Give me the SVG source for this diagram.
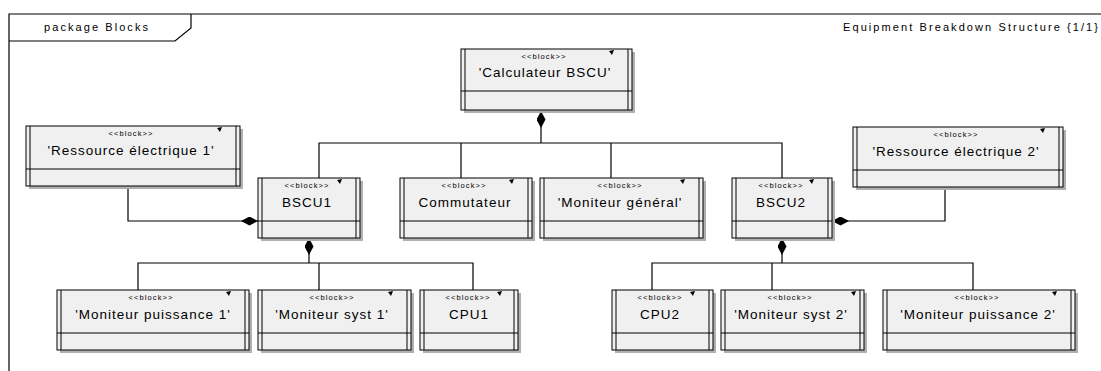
<svg xmlns="http://www.w3.org/2000/svg" width="1101" height="371" viewBox="0 0 1101 371">
<style>
.bg{fill:#ffffff}
.frame{fill:none;stroke:#000;stroke-width:1.2}
.shadow{fill:#b0b0b0}
.box{fill:#f0f0f0;stroke:#000;stroke-width:1}
.ln{fill:none;stroke:#000;stroke-width:1}
.mark{fill:#000}
.st{font-family:"Liberation Sans",Arial,sans-serif;font-size:7.5px;letter-spacing:1.1px;fill:#000;text-anchor:middle}
.nm{font-family:"Liberation Sans",Arial,sans-serif;font-size:13.5px;letter-spacing:1px;fill:#000;text-anchor:middle}
.ttl{font-family:"Liberation Sans",Arial,sans-serif;font-size:11px;fill:#000}
.con{fill:none;stroke:#000;stroke-width:1.2}
</style>
<defs>
<marker id="dia" viewBox="0 0 17 9" refX="0" refY="4.5" markerWidth="17" markerHeight="9" markerUnits="userSpaceOnUse" orient="auto">
<path d="M0,4.5 L8.5,0 L17,4.5 L8.5,9 Z" fill="#000"/>
</marker>
</defs>
<rect class="bg" x="0" y="0" width="1101" height="371"/>
<g id="frame">
<path class="frame" d="M9,371 V14 H1101"/>
<path class="frame" d="M9,41 H175 L191,28 V14"/>
<text class="ttl" x="44" y="31" textLength="104" lengthAdjust="spacing">package Blocks</text>
<text class="ttl" x="843" y="31" textLength="255" lengthAdjust="spacing">Equipment Breakdown Structure {1/1}</text>
</g>
<g id="connectors">
<path class="con" d="M541,111 V143" marker-start="url(#dia)"/>
<path class="con" d="M319,178 V143 H782 V178 M461,143 V178 M611,143 V178"/>
<path class="con" d="M258,221 H128 V186" marker-start="url(#dia)"/>
<path class="con" d="M309,238 V263" marker-start="url(#dia)"/>
<path class="con" d="M138,290 V263 H473 V290 M319,263 V290"/>
<path class="con" d="M782,238 V263" marker-start="url(#dia)"/>
<path class="con" d="M652,290 V263 H973 V290 M772,263 V290"/>
<path class="con" d="M832,221 H945 V187" marker-start="url(#dia)"/>
</g>
<g id="calc">
<rect class="shadow" x="464" y="52" width="171" height="61"/>
<rect class="box" x="461" y="49" width="171" height="61"/>
<path class="ln" d="M465,49 V110 M628,49 V110 M461,91 H632"/>
<path class="mark" d="M609,51 L614,50 L612,55 Z"/>
<text class="st" x="544" y="59">&lt;&lt;block&gt;&gt;</text>
<text class="nm" x="545" y="77">'Calculateur BSCU'</text>
</g>
<g id="res1">
<rect class="shadow" x="29" y="129" width="214" height="60"/>
<rect class="box" x="26" y="126" width="214" height="60"/>
<path class="ln" d="M30,126 V186 M236,126 V186 M26,169 H240"/>
<path class="mark" d="M217,128 L222,127 L220,132 Z"/>
<text class="st" x="131" y="136">&lt;&lt;block&gt;&gt;</text>
<text class="nm" x="131" y="155">'Ressource électrique 1'</text>
</g>
<g id="bscu1">
<rect class="shadow" x="261" y="181" width="102" height="60"/>
<rect class="box" x="258" y="178" width="102" height="60"/>
<path class="ln" d="M262,178 V238 M356,178 V238 M258,221 H360"/>
<path class="mark" d="M337,180 L342,179 L340,184 Z"/>
<text class="st" x="307" y="188">&lt;&lt;block&gt;&gt;</text>
<text class="nm" x="307" y="207">BSCU1</text>
</g>
<g id="commut">
<rect class="shadow" x="403" y="181" width="132" height="60"/>
<rect class="box" x="400" y="178" width="132" height="60"/>
<path class="ln" d="M404,178 V238 M528,178 V238 M400,221 H532"/>
<path class="mark" d="M509,180 L514,179 L512,184 Z"/>
<text class="st" x="464" y="188">&lt;&lt;block&gt;&gt;</text>
<text class="nm" x="465" y="207">Commutateur</text>
</g>
<g id="mongen">
<rect class="shadow" x="543" y="181" width="163" height="60"/>
<rect class="box" x="540" y="178" width="163" height="60"/>
<path class="ln" d="M544,178 V238 M699,178 V238 M540,221 H703"/>
<path class="mark" d="M680,180 L685,179 L683,184 Z"/>
<text class="st" x="620" y="188">&lt;&lt;block&gt;&gt;</text>
<text class="nm" x="620" y="207">'Moniteur général'</text>
</g>
<g id="bscu2">
<rect class="shadow" x="735" y="181" width="100" height="60"/>
<rect class="box" x="732" y="178" width="100" height="60"/>
<path class="ln" d="M736,178 V238 M828,178 V238 M732,221 H832"/>
<path class="mark" d="M809,180 L814,179 L812,184 Z"/>
<text class="st" x="781" y="188">&lt;&lt;block&gt;&gt;</text>
<text class="nm" x="781" y="207">BSCU2</text>
</g>
<g id="res2">
<rect class="shadow" x="856" y="130" width="210" height="60"/>
<rect class="box" x="853" y="127" width="210" height="60"/>
<path class="ln" d="M857,127 V187 M1059,127 V187 M853,170 H1063"/>
<path class="mark" d="M1040,129 L1045,128 L1043,133 Z"/>
<text class="st" x="956" y="137">&lt;&lt;block&gt;&gt;</text>
<text class="nm" x="956" y="156">'Ressource électrique 2'</text>
</g>
<g id="mp1">
<rect class="shadow" x="60" y="293" width="192" height="60"/>
<rect class="box" x="57" y="290" width="192" height="60"/>
<path class="ln" d="M61,290 V350 M245,290 V350 M57,333 H249"/>
<path class="mark" d="M226,292 L231,291 L229,296 Z"/>
<text class="st" x="151" y="300">&lt;&lt;block&gt;&gt;</text>
<text class="nm" x="153" y="319">'Moniteur puissance 1'</text>
</g>
<g id="ms1">
<rect class="shadow" x="261" y="293" width="153" height="60"/>
<rect class="box" x="258" y="290" width="153" height="60"/>
<path class="ln" d="M262,290 V350 M407,290 V350 M258,333 H411"/>
<path class="mark" d="M388,292 L393,291 L391,296 Z"/>
<text class="st" x="332" y="300">&lt;&lt;block&gt;&gt;</text>
<text class="nm" x="332" y="319">'Moniteur syst 1'</text>
</g>
<g id="cpu1">
<rect class="shadow" x="423" y="293" width="98" height="60"/>
<rect class="box" x="420" y="290" width="98" height="60"/>
<path class="ln" d="M424,290 V350 M514,290 V350 M420,333 H518"/>
<path class="mark" d="M497,292 L502,291 L500,296 Z"/>
<text class="st" x="468" y="300">&lt;&lt;block&gt;&gt;</text>
<text class="nm" x="469" y="319">CPU1</text>
</g>
<g id="cpu2">
<rect class="shadow" x="615" y="293" width="101" height="60"/>
<rect class="box" x="612" y="290" width="101" height="60"/>
<path class="ln" d="M616,290 V350 M709,290 V350 M612,333 H713"/>
<path class="mark" d="M690,292 L695,291 L693,296 Z"/>
<text class="st" x="660" y="300">&lt;&lt;block&gt;&gt;</text>
<text class="nm" x="660" y="319">CPU2</text>
</g>
<g id="ms2">
<rect class="shadow" x="724" y="293" width="143" height="60"/>
<rect class="box" x="721" y="290" width="143" height="60"/>
<path class="ln" d="M725,290 V350 M860,290 V350 M721,333 H864"/>
<path class="mark" d="M851,292 L856,291 L854,296 Z"/>
<text class="st" x="790" y="300">&lt;&lt;block&gt;&gt;</text>
<text class="nm" x="791" y="319">'Moniteur syst 2'</text>
</g>
<g id="mp2">
<rect class="shadow" x="886" y="293" width="192" height="60"/>
<rect class="box" x="883" y="290" width="192" height="60"/>
<path class="ln" d="M887,290 V350 M1071,290 V350 M883,333 H1075"/>
<path class="mark" d="M1052,292 L1057,291 L1055,296 Z"/>
<text class="st" x="977" y="300">&lt;&lt;block&gt;&gt;</text>
<text class="nm" x="978" y="319">'Moniteur puissance 2'</text>
</g>
</svg>
